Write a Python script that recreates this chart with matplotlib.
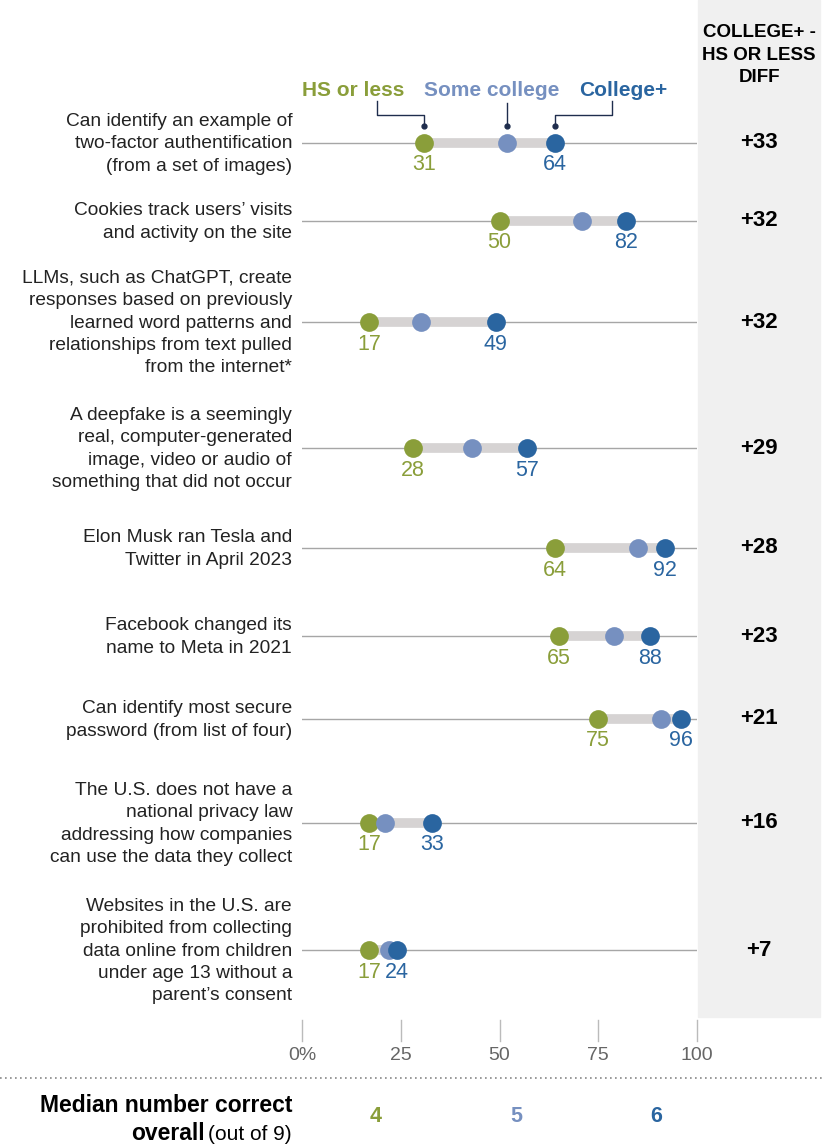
import matplotlib
matplotlib.use('Agg')
import matplotlib.pyplot as plt
from matplotlib.patches import Rectangle

# data
items = [
    'Can identify an example of\ntwo-factor authentification\n(from a set of images)',
    'Cookies track users\u2019 visits\nand activity on the site',
    'LLMs, such as ChatGPT, create\nresponses based on previously\nlearned word patterns and\nrelationships from text pulled\nfrom the internet*',
    'A deepfake is a seemingly\nreal, computer-generated\nimage, video or audio of\nsomething that did not occur',
    'Elon Musk ran Tesla and\nTwitter in April 2023',
    'Facebook changed its\nname to Meta in 2021',
    'Can identify most secure\npassword (from list of four)',
    'The U.S. does not have a\nnational privacy law\naddressing how companies\ncan use the data they collect',
    'Websites in the U.S. are\nprohibited from collecting\ndata online from children\nunder age 13 without a\nparent\u2019s consent',
]
hs_or_less = [31, 50, 17, 28, 64, 65, 75, 17, 17]
some_college = [52, 71, 30, 43, 85, 79, 91, 21, 22]
college_plus = [64, 82, 49, 57, 92, 88, 96, 33, 24]
groups = ['HS or less', 'Some college', 'College+']
median_correct = [4, 5, 6]
ticks = [0, 25, 50, 75, 100]
tick_labels = ['0%', '25', '50', '75', '100']

# layout (pixel rows, figure is 824x1144)
row_y = [143, 221, 322, 448, 548, 636, 719, 823, 950]
median_x = [18.7, 54.2, 89.6]
legend_x = [12.9, 48.1, 81.4]

GREEN = '#8a9e3a'
LIGHT = '#7690c0'
DARK = '#2a65a0'
colors = [GREEN, LIGHT, DARK]
plt.rcParams['font.family'] = ['Liberation Sans', 'DejaVu Sans']

W, H = 824, 1144
fig = plt.figure(figsize=(W / 100, H / 100), dpi=100)
ax = fig.add_axes([302 / W, 0, 395 / W, 1])
ax.set_xlim(0, 100)
ax.set_ylim(H, 0)
ax.axis('off')

# grey diff panel
fig.add_artist(Rectangle((698 / W, 1 - 1017 / H), 122 / W, 1017 / H,
                         transform=fig.transFigure, color='#f0f0f0', zorder=0))
fig.text(759 / W, 1 - 55 / H, 'COLLEGE+ -\nHS OR LESS\nDIFF', ha='center', va='center',
         fontsize=13.5, fontweight='bold', linespacing=1.45, color='black')

for i, y in enumerate(row_y):
    hs, sc, cp = hs_or_less[i], some_college[i], college_plus[i]
    ax.plot([0, 100], [y, y], color='#a6a6a6', lw=1, zorder=1)
    ax.plot([hs, cp], [y, y], color='#d6d3d3', lw=7, solid_capstyle='butt', zorder=2)
    for v, c in zip([hs, sc, cp], colors):
        ax.plot(v, y, 'o', ms=13.5, color=c, mec='none', zorder=3)
    ax.text(hs, y + 22, str(hs), ha='center', va='center', fontsize=15.5, color=GREEN)
    ax.text(cp, y + 22, str(cp), ha='center', va='center', fontsize=15.5, color=DARK)
    ax.text(-2.5, y + 1, items[i], ha='right', va='center', fontsize=13.8,
            linespacing=1.42, color='#222222', clip_on=False)
    fig.text(759 / W, 1 - y / H, '+%d' % (cp - hs), ha='center', va='center',
             fontsize=16, fontweight='bold', color='black')

# legend labels with leaders
LEAD = '#1f2d4d'
for x, g, c in zip(legend_x, groups, colors):
    ax.text(x, 90, g, ha='center', va='center', fontsize=15, fontweight='bold', color=c)
ax.plot([19, 19, hs_or_less[0], hs_or_less[0]], [101, 115, 115, 126], color=LEAD, lw=1)
ax.plot([some_college[0], some_college[0]], [103, 126], color=LEAD, lw=1)
ax.plot([78.4, 78.4, college_plus[0], college_plus[0]], [101, 115, 115, 126], color=LEAD, lw=1)
for v in [hs_or_less[0], some_college[0], college_plus[0]]:
    ax.plot(v, 126, 'o', ms=3.5, color=LEAD, zorder=4)

# x axis ticks
for t, lab in zip(ticks, tick_labels):
    ax.plot([t, t], [1020, 1041], color='#bbbbbb', lw=1, clip_on=False)
    ax.text(t, 1056, lab, ha='center', va='center', fontsize=14, color='#666666')

# dotted separator
fig.add_artist(plt.Line2D([0, 1], [1 - 1078 / H, 1 - 1078 / H], transform=fig.transFigure,
                          color='#888888', lw=1.2, ls=(0, (1, 2))))

# median row
fig.text(292 / W, 1 - 1106 / H, 'Median number correct', ha='right', va='center',
         fontsize=16.5, fontweight='bold')
t2 = fig.text(292 / W, 1 - 1134 / H, '(out of 9)', ha='right', va='center', fontsize=15)
fig.canvas.draw()
bb = t2.get_window_extent()
fig.text((bb.x0 - 4) / W, 1 - 1134 / H, 'overall', ha='right', va='center',
         fontsize=16.5, fontweight='bold')
for x, m, c in zip(median_x, median_correct, colors):
    ax.text(x, 1116, str(m), ha='center', va='center', fontsize=15.5, fontweight='bold', color=c)

fig.savefig('out.png', dpi=100)
